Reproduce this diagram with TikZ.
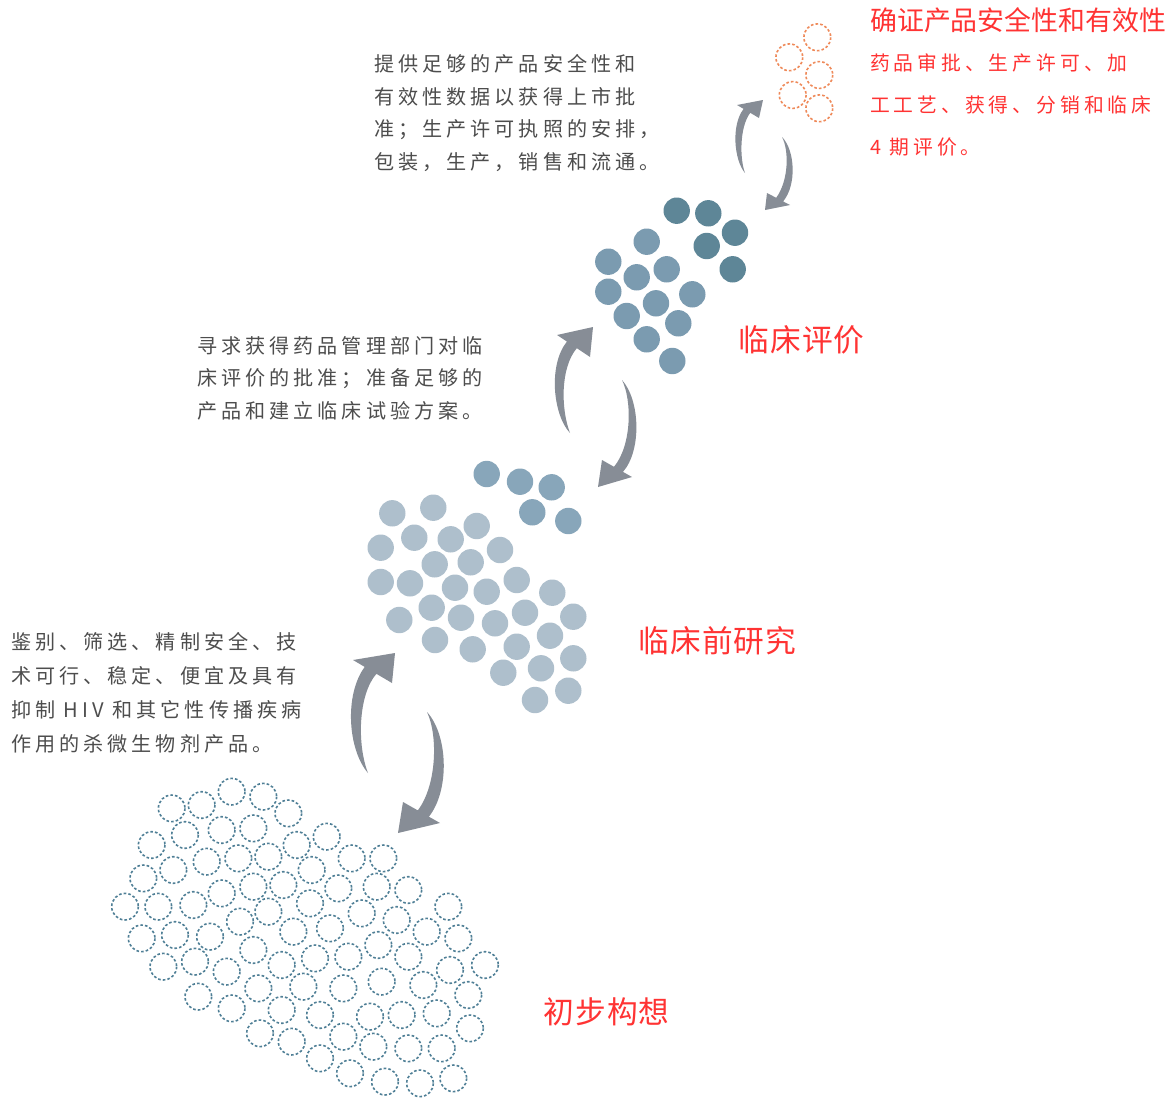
\documentclass[tikz,border=0pt]{standalone}
\usepackage{fontspec}
\setmainfont{Noto Sans CJK SC}
\newfontfamily\cjkg[LetterSpace=20]{Noto Sans CJK SC}
\newfontfamily\cjkl[LetterSpace=4]{Noto Sans CJK SC}
\newfontfamily\cjkt{Noto Sans CJK SC}
\definecolor{txtgray}{HTML}{4D4D4D}
\definecolor{redtxt}{HTML}{FF3333}
\definecolor{arrowgray}{HTML}{878D96}
\definecolor{topdark}{HTML}{5E8697}
\definecolor{topmid}{HTML}{7B9BB0}
\definecolor{middark}{HTML}{88A6BA}
\definecolor{midlight}{HTML}{AEBFCC}
\definecolor{dashblue}{HTML}{4F7F96}
\definecolor{dashorange}{HTML}{EF8A5A}
\tikzset{
  graytxt/.style={anchor=west, inner sep=0pt, text=txtgray, font=\cjkg\fontsize{20.1}{21}\selectfont},
  redsub/.style={anchor=west, inner sep=0pt, text=redtxt, font=\cjkg\fontsize{19.8}{21}\selectfont},
  redtitle/.style={anchor=west, inner sep=0pt, text=redtxt, font=\cjkt\fontsize{26.9}{28}\selectfont},
  stagelabel/.style={anchor=west, inner sep=0pt, text=redtxt, font=\cjkl\fontsize{30.7}{32}\selectfont},
  arrowfill/.style={fill=arrowgray, draw=none},
  dashcirc/.style={draw=dashblue, line width=1.6pt, dash pattern=on 2.6pt off 2.1pt},
  orangecirc/.style={draw=dashorange, line width=1.6pt, dash pattern=on 2.6pt off 2.1pt},
}
\begin{document}
\begin{tikzpicture}[x=1pt,y=-1pt]
\fill[white] (0,0) rectangle (1176,1100);
\useasboundingbox (0,0) rectangle (1176,1100);

% ---------- bottom dashed cluster ----------
\foreach \a/\b in {215/115,305/105,395/65,490/80,565/130,255/195,365/180,460/175,155/225,590/225,680/200,755/265,850/265,220/300,320/275,415/265,505/260,130/325,635/300,715/355,830/350,925/360,1045/410,75/410,175/410,280/405,365/370,460/350,550/345,630/400,505/425,420/455,785/430,890/450,980/485,1075/505,125/505,225/495,330/500,580/485,690/475,835/525,460/540,545/585,645/565,745/560,925/560,1050/600,1155/585,190/590,285/575,380/605,475/655,610/650,730/655,845/635,970/645,1105/675,295/680,395/715,545/720,660/735,810/740,905/735,1010/730,1110/775,480/790,575/815,730/800,820/830,925/835,1025/835,660/865,750/910,855/935,960/940,1060/925}
  \draw[dashcirc] ({100+\a/3},{770+\b/3}) circle[radius=13.3];

% ---------- middle cluster ----------
\foreach \x/\y in {392.3/513.3,433.3/507.7,476.7/526,380.7/547.7,414.3/537.7,450.7/539.3,500/550,434.7/564.3,470.7/562.3,380.7/582,410/583.3,455/587.7,486.7/591.7,516.7/580,552.3/592.7,399.3/620,431.7/607.7,461/617.7,495/623.3,525/612.7,573.3/616.7,435/640,472.7/649.3,516.7/646.7,550/635.7,503.3/672.7,541/668.3,573.3/658.3,535/700,568.3/690.7}
  \fill[midlight] (\x,\y) circle[radius=13.2];
\foreach \x/\y in {486.7/474,520/481.7,551.7/487.3,532.3/512.3,568.3/521}
  \fill[middark] (\x,\y) circle[radius=13.2];

% ---------- top cluster ----------
\foreach \x/\y in {646.7/241.7,608.3/261.7,636.7/277.3,666.7/269.3,608.3/291.7,656/303.3,692.3/294.3,626.7/316,678.3/323.3,646.7/339.3,672.3/361}
  \fill[topmid] (\x,\y) circle[radius=13.2];
\foreach \x/\y in {676.7/210.7,708.3/213.3,735/232.7,706.7/246,732.7/269.3}
  \fill[topdark] (\x,\y) circle[radius=13.2];

% ---------- orange dashed ----------
\foreach \x/\y in {817.3/37.3,789.3/57.3,819.3/75,792.7/95,819.3/108.3}
  \draw[orangecirc] (\x,\y) circle[radius=13.4];

% ---------- arrows ----------
% pair 3 (bottom)
\fill[arrowfill] (368,773) .. controls (348,750) and (344,695) .. (364.7,666.9) -- (353,660) -- (395,653) -- (392,683) -- (376.4,673.8) .. controls (358,695) and (357,745) .. (368,773) -- cycle;
\fill[arrowfill] (427,712) .. controls (448,735) and (450,790) .. (428.9,816.7) -- (440,823) -- (398,833) -- (403,802) -- (417.8,810.4) .. controls (437,785) and (438,735) .. (427,712) -- cycle;
% pair 2 (middle)
\fill[arrowfill] (570,433) .. controls (553,415) and (548,365) .. (566.9,341.6) -- (557,335) -- (593,327) -- (590,357) -- (576.8,348.2) .. controls (560,368) and (561,410) .. (570,433) -- cycle;
\fill[arrowfill] (622,380) .. controls (640,400) and (642,450) .. (623,471.9) -- (632,477) -- (598,487) -- (602,460) -- (614,466.8) .. controls (632,445) and (632,400) .. (622,380) -- cycle;
% pair 1 (top)
\fill[arrowfill] (745,173) .. controls (734,160) and (731,125) .. (743.6,108.9) -- (737,105) -- (763,100) -- (759,118) -- (750.2,112.8) .. controls (739,128) and (740,160) .. (745,173) -- cycle;
\fill[arrowfill] (782,137) .. controls (795,150) and (797,185) .. (783.1,201.4) -- (790,205) -- (765,210) -- (767,193) -- (776.2,197.8) .. controls (789,180) and (789,150) .. (782,137) -- cycle;

% ---------- texts ----------
\foreach \t [count=\i] in {提供足够的产品安全性和,有效性数据以获得上市批,准；生产许可执照的安排，,包装，生产，销售和流通。}
  \node[graytxt] (top\i) at ({374},{64+32.6*(\i-1)}) {\t};

\foreach \t [count=\i] in {寻求获得药品管理部门对临,床评价的批准；准备足够的,产品和建立临床试验方案。}
  \node[graytxt] (mid\i) at ({197},{346+32.4*(\i-1)}) {\t};

\foreach \t [count=\i] in {鉴别、筛选、精制安全、技,术可行、稳定、便宜及具有,抑制 HIV 和其它性传播疾病,作用的杀微生物剂产品。}
  \node[graytxt] (left\i) at ({11},{642+34.1*(\i-1)}) {\t};

\node[redtitle] (title) at (870,20.5) {确证产品安全性和有效性};
\foreach \t [count=\i] in {药品审批、生产许可、加,工工艺、获得、分销和临床,4 期评价。}
  \node[redsub] (red\i) at ({870},{62.7+42*(\i-1)}) {\t};

\node[stagelabel] (lab1) at (738,340) {临床评价};
\node[stagelabel] (lab2) at (638,641) {临床前研究};
\node[stagelabel] (lab3) at (543,1012) {初步构想};
\end{tikzpicture}
\end{document}
